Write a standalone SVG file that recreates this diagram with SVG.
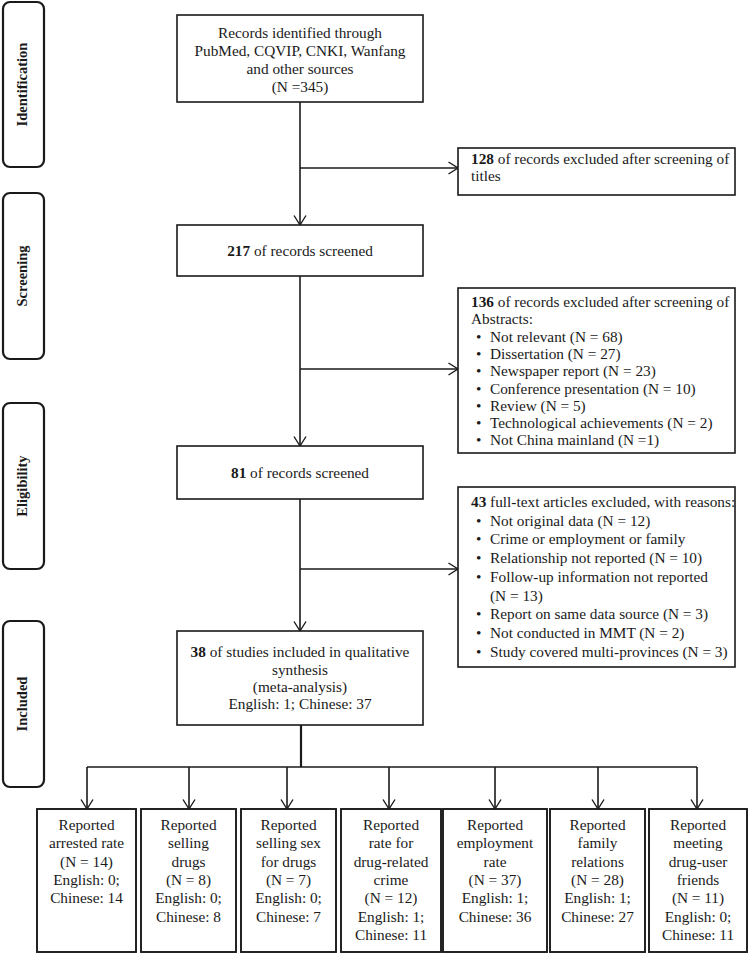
<svg xmlns="http://www.w3.org/2000/svg" width="752" height="956" viewBox="0 0 752 956">
<style>
.bg{fill:#ffffff}
.box{fill:#ffffff;stroke:#1a1a1a;stroke-width:1.6}
.bbox{fill:#ffffff;stroke:#1a1a1a;stroke-width:1.9}
.stage{fill:#ffffff;stroke:#1a1a1a;stroke-width:2.2}
.t{font-family:"Liberation Serif","Times New Roman",serif;font-size:15.3px;fill:#1a1a1a}
.c{text-anchor:middle}
.b{font-weight:bold}
.st{font-family:"Liberation Serif","Times New Roman",serif;font-size:14.5px;font-weight:bold;fill:#1a1a1a;text-anchor:middle;dominant-baseline:central}
.ln{fill:none;stroke:#1a1a1a;stroke-width:1.6}
.lt{fill:none;stroke:#1a1a1a;stroke-width:2.2}
</style>
<defs>
<marker id="ah" markerWidth="12" markerHeight="14" refX="10.5" refY="7" orient="auto" markerUnits="userSpaceOnUse">
<path d="M1,1 L10.5,7 L1,13" fill="none" stroke="#1a1a1a" stroke-width="1.4"/>
</marker>
</defs>
<rect class="bg" x="0" y="0" width="752" height="956"/>

<g id="stage-identification">
<rect class="stage" x="3" y="2" width="41" height="165" rx="7"/>
<text class="st" transform="translate(22,84.5) rotate(-90)">Identification</text>
</g>
<g id="stage-screening">
<rect class="stage" x="3" y="193" width="41" height="166" rx="7"/>
<text class="st" transform="translate(22,276) rotate(-90)">Screening</text>
</g>
<g id="stage-eligibility">
<rect class="stage" x="3" y="403" width="41" height="166" rx="7"/>
<text class="st" transform="translate(22,486) rotate(-90)">Eligibility</text>
</g>
<g id="stage-included">
<rect class="stage" x="3" y="621" width="41" height="166" rx="7"/>
<text class="st" transform="translate(22,704) rotate(-90)">Included</text>
</g>

<g id="connectors">
<line class="ln" x1="300" y1="102" x2="300" y2="225" marker-end="url(#ah)"/>
<line class="ln" x1="300" y1="168" x2="458" y2="168" marker-end="url(#ah)"/>
<line class="ln" x1="300" y1="276" x2="300" y2="446" marker-end="url(#ah)"/>
<line class="ln" x1="300" y1="369" x2="458" y2="369" marker-end="url(#ah)"/>
<line class="ln" x1="300" y1="499" x2="300" y2="631" marker-end="url(#ah)"/>
<line class="ln" x1="300" y1="569" x2="458" y2="569" marker-end="url(#ah)"/>
<line class="lt" x1="301" y1="725" x2="301" y2="767"/>
<line class="ln" x1="87" y1="767" x2="697" y2="767"/>
<line class="ln" x1="87" y1="767" x2="87" y2="809" marker-end="url(#ah)"/>
<line class="ln" x1="189" y1="767" x2="189" y2="809" marker-end="url(#ah)"/>
<line class="ln" x1="287" y1="767" x2="287" y2="809" marker-end="url(#ah)"/>
<line class="ln" x1="389" y1="767" x2="389" y2="809" marker-end="url(#ah)"/>
<line class="ln" x1="495" y1="767" x2="495" y2="809" marker-end="url(#ah)"/>
<line class="ln" x1="598" y1="767" x2="598" y2="809" marker-end="url(#ah)"/>
<line class="ln" x1="697" y1="767" x2="697" y2="809" marker-end="url(#ah)"/>
</g>

<g id="node-identified">
<rect class="box" x="177" y="15" width="246" height="87"/>
<text class="t c" x="300" y="37.5">Records identified through</text>
<text class="t c" x="300" y="55.8">PubMed, CQVIP, CNKI, Wanfang</text>
<text class="t c" x="300" y="74">and other sources</text>
<text class="t c" x="300" y="92.3">(N =345)</text>
</g>

<g id="node-excluded-titles">
<rect class="box" x="458" y="148" width="277" height="47"/>
<text class="t" x="471" y="164"><tspan class="b">128</tspan> of records excluded after screening of</text>
<text class="t" x="471" y="181">titles</text>
</g>

<g id="node-screened-217">
<rect class="box" x="177" y="225" width="246" height="51"/>
<text class="t c" x="300" y="256"><tspan class="b">217</tspan> of records screened</text>
</g>

<g id="node-excluded-abstracts">
<rect class="box" x="458" y="288" width="277" height="165"/>
<text class="t" x="471" y="307"><tspan class="b">136</tspan> of records excluded after screening of</text>
<text class="t" x="471" y="324.3">Abstracts:</text>
<text class="t" x="476" y="341.6">•</text><text class="t" x="490" y="341.6">Not relevant  (N = 68)</text>
<text class="t" x="476" y="358.9">•</text><text class="t" x="490" y="358.9">Dissertation (N = 27)</text>
<text class="t" x="476" y="376.2">•</text><text class="t" x="490" y="376.2">Newspaper report (N = 23)</text>
<text class="t" x="476" y="393.5">•</text><text class="t" x="490" y="393.5">Conference presentation (N = 10)</text>
<text class="t" x="476" y="410.8">•</text><text class="t" x="490" y="410.8">Review (N = 5)</text>
<text class="t" x="476" y="428.1">•</text><text class="t" x="490" y="428.1">Technological achievements  (N = 2)</text>
<text class="t" x="476" y="445.4">•</text><text class="t" x="490" y="445.4">Not China mainland (N =1)</text>
</g>

<g id="node-screened-81">
<rect class="box" x="177" y="446" width="246" height="53"/>
<text class="t c" x="300" y="478"><tspan class="b">81</tspan> of records screened</text>
</g>

<g id="node-excluded-fulltext">
<rect class="box" x="458" y="487" width="277" height="180"/>
<text class="t" x="471" y="507"><tspan class="b">43</tspan> full-text articles excluded,  with reasons:</text>
<text class="t" x="476" y="525.7">•</text><text class="t" x="490" y="525.7">Not original data (N = 12)</text>
<text class="t" x="476" y="544.4">•</text><text class="t" x="490" y="544.4">Crime or employment  or family</text>
<text class="t" x="476" y="563.1">•</text><text class="t" x="490" y="563.1">Relationship not reported (N = 10)</text>
<text class="t" x="476" y="581.8">•</text><text class="t" x="490" y="581.8">Follow-up information not reported</text>
<text class="t" x="490" y="600.5">(N = 13)</text>
<text class="t" x="476" y="619.2">•</text><text class="t" x="490" y="619.2">Report on same data source (N = 3)</text>
<text class="t" x="476" y="637.9">•</text><text class="t" x="490" y="637.9">Not conducted in MMT  (N = 2)</text>
<text class="t" x="476" y="656.6">•</text><text class="t" x="490" y="656.6">Study covered multi-provinces (N = 3)</text>
</g>

<g id="node-included-38">
<rect class="box" x="177" y="631" width="246" height="94"/>
<text class="t c" x="300" y="657"><tspan class="b">38</tspan> of studies included in qualitative</text>
<text class="t c" x="300" y="674.5">synthesis</text>
<text class="t c" x="300" y="692">(meta-analysis)</text>
<text class="t c" x="300" y="709">English: 1; Chinese: 37</text>
</g>

<g id="node-arrested">
<rect class="bbox" x="37" y="809" width="99" height="143"/>
<text class="t c" x="86.5" y="830">Reported</text>
<text class="t c" x="86.5" y="848">arrested rate</text>
<text class="t c" x="86.5" y="867">(N = 14)</text>
<text class="t c" x="86.5" y="885">English: 0;</text>
<text class="t c" x="86.5" y="903">Chinese: 14</text>
</g>

<g id="node-selling-drugs">
<rect class="bbox" x="141" y="809" width="95" height="143"/>
<text class="t c" x="188.5" y="830">Reported</text>
<text class="t c" x="188.5" y="848">selling</text>
<text class="t c" x="188.5" y="867">drugs</text>
<text class="t c" x="188.5" y="885">(N = 8)</text>
<text class="t c" x="188.5" y="903">English: 0;</text>
<text class="t c" x="188.5" y="922">Chinese: 8</text>
</g>

<g id="node-selling-sex">
<rect class="bbox" x="241" y="809" width="95" height="143"/>
<text class="t c" x="288.5" y="830">Reported</text>
<text class="t c" x="288.5" y="848">selling sex</text>
<text class="t c" x="288.5" y="867">for drugs</text>
<text class="t c" x="288.5" y="885">(N = 7)</text>
<text class="t c" x="288.5" y="903">English: 0;</text>
<text class="t c" x="288.5" y="922">Chinese: 7</text>
</g>

<g id="node-crime">
<rect class="bbox" x="341" y="809" width="100" height="143"/>
<text class="t c" x="391" y="830">Reported</text>
<text class="t c" x="391" y="848">rate for</text>
<text class="t c" x="391" y="867">drug-related</text>
<text class="t c" x="391" y="885">crime</text>
<text class="t c" x="391" y="903">(N = 12)</text>
<text class="t c" x="391" y="922">English: 1;</text>
<text class="t c" x="391" y="940">Chinese: 11</text>
</g>

<g id="node-employment">
<rect class="bbox" x="443" y="809" width="104" height="143"/>
<text class="t c" x="495" y="830">Reported</text>
<text class="t c" x="495" y="848">employment</text>
<text class="t c" x="495" y="867">rate</text>
<text class="t c" x="495" y="885">(N = 37)</text>
<text class="t c" x="495" y="903">English: 1;</text>
<text class="t c" x="495" y="922">Chinese: 36</text>
</g>

<g id="node-family">
<rect class="bbox" x="550" y="809" width="95" height="143"/>
<text class="t c" x="597.5" y="830">Reported</text>
<text class="t c" x="597.5" y="848">family</text>
<text class="t c" x="597.5" y="867">relations</text>
<text class="t c" x="597.5" y="885">(N = 28)</text>
<text class="t c" x="597.5" y="903">English: 1;</text>
<text class="t c" x="597.5" y="922">Chinese: 27</text>
</g>

<g id="node-friends">
<rect class="bbox" x="649" y="809" width="98" height="143"/>
<text class="t c" x="698" y="830">Reported</text>
<text class="t c" x="698" y="848">meeting</text>
<text class="t c" x="698" y="867">drug-user</text>
<text class="t c" x="698" y="885">friends</text>
<text class="t c" x="698" y="903">(N = 11)</text>
<text class="t c" x="698" y="922">English: 0;</text>
<text class="t c" x="698" y="940">Chinese: 11</text>
</g>
</svg>
